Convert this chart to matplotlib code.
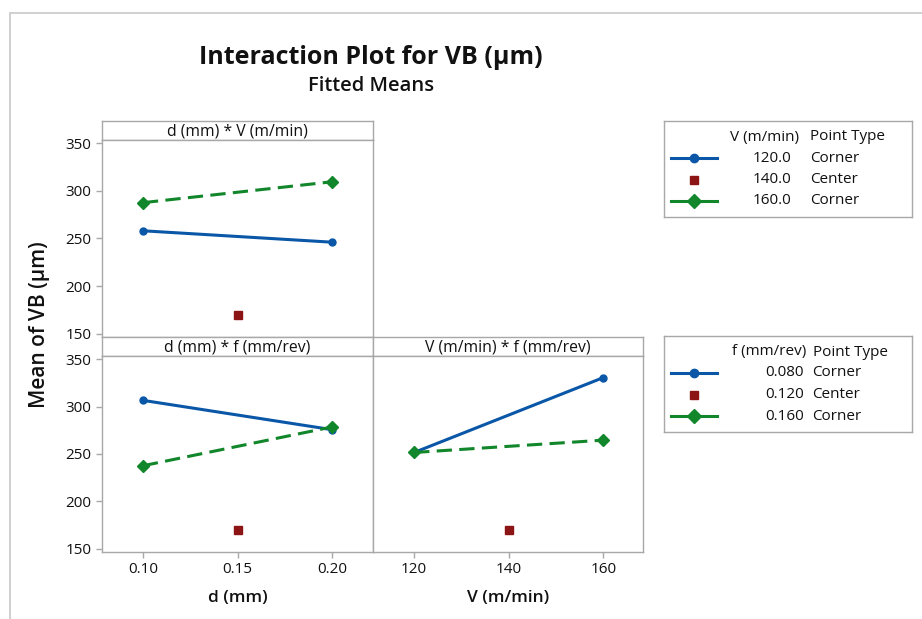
import matplotlib
matplotlib.use("Agg")
import matplotlib.pyplot as plt
from matplotlib.patches import Rectangle

plt.rcParams['font.family'] = ['Open Sans', 'DejaVu Sans']

# factor levels
d_levels = [0.10, 0.15, 0.20]
V_levels = [120, 140, 160]
f_levels = [0.080, 0.120, 0.160]

# fitted means, d * V panel
dV_low = [258.0, 246.0]      # V = 120
dV_high = [287.5, 309.5]     # V = 160
dV_center = 170.0            # V = 140

# fitted means, d * f panel
df_low = [306.5, 275.5]      # f = 0.080
df_high = [237.5, 278.5]     # f = 0.160
df_center = 170.0            # f = 0.120

# fitted means, V * f panel
Vf_low = [251.5, 330.5]
Vf_high = [251.5, 264.5]
Vf_center = 170.0

y_ticks = [150, 200, 250, 300, 350]
d_ticks = ["0.10", "0.15", "0.20"]
V_ticks = ["120", "140", "160"]

legend_V = ["120.0", "140.0", "160.0"]
legend_f = ["0.080", "0.120", "0.160"]
point_types = ["Corner", "Center", "Corner"]

BLUE = "#0a57a8"
GREEN = "#11862a"
RED = "#8c1414"
GRID = "#a8a8a8"
TXT = "#111111"

low_style = dict(color=BLUE, lw=2.2, marker="o", ms=5, solid_capstyle="round")
high_style = dict(color=GREEN, lw=2.2, ls=(0, (5, 2.4)), marker="D", ms=6)
mid_style = dict(color=RED, ls="none", marker="s", ms=5.5)

W, H = 922, 619
fig = plt.figure(figsize=(W / 100, H / 100), dpi=100)


def px_axes(x0, y0, x1, y1):
    return fig.add_axes([x0 / W, 1 - y1 / H, (x1 - x0) / W, (y1 - y0) / H])


def style_axes(ax):
    for s in ax.spines.values():
        s.set_color(GRID)
        s.set_linewidth(1.0)
    ax.tick_params(colors=GRID, labelcolor=TXT, labelsize=11, length=4, width=1)


def strip(x0, y0, x1, y1, label):
    ax = px_axes(x0, y0, x1, y1)
    style_axes(ax)
    ax.set_xticks([])
    ax.set_yticks([])
    ax.text(0.5, 0.45, label, ha="center", va="center", fontsize=11.3, color=TXT,
            transform=ax.transAxes)
    return ax


def panel(x0, y0, x1, y1, xs, low, high, center, xmid):
    ax = px_axes(x0, y0, x1, y1)
    style_axes(ax)
    ax.plot([xs[0], xs[2]], low, **low_style)
    ax.plot([xs[0], xs[2]], high, **high_style)
    ax.plot([xmid], [center], **mid_style)
    ax.set_ylim(146.5, 353.3)
    ax.set_yticks(y_ticks)
    return ax


# outer frame
fig.patches.append(Rectangle((10 / W, -0.05), 1.1, 1 - 13 / H + 0.05,
                             transform=fig.transFigure, fill=False,
                             edgecolor="#c8c8c8", lw=1.2))

# d * V
strip(102, 121, 373, 140, "d (mm) * V (m/min)")
ax1 = panel(102, 140, 373, 337, d_levels, dV_low, dV_high, dV_center, d_levels[1])
ax1.set_xlim(0.0784, 0.2214)
ax1.set_xticks([])

# d * f
strip(102, 337, 373, 356, "d (mm) * f (mm/rev)")
ax2 = panel(102, 356, 373, 552, d_levels, df_low, df_high, df_center, d_levels[1])
ax2.set_xlim(0.0784, 0.2214)
ax2.set_xticks(d_levels, d_ticks)
ax2.set_xlabel("d (mm)", fontsize=12.5, fontweight="semibold", color=TXT, labelpad=9)

# V * f
strip(373, 337, 643, 356, "V (m/min) * f (mm/rev)")
ax3 = panel(373, 356, 643, 552, V_levels, Vf_low, Vf_high, Vf_center, V_levels[1])
ax3.set_xlim(111.3, 168.4)
ax3.set_xticks(V_levels, V_ticks)
ax3.set_yticks([])
ax3.set_xlabel("V (m/min)", fontsize=12.5, fontweight="semibold", color=TXT, labelpad=9)

fig.text(40 / W, 1 - 325 / H, "Mean of VB (µm)", rotation=90, ha="center",
         va="center", fontsize=15, fontweight="semibold", color=TXT)

fig.text(371 / W, 1 - 57 / H, "Interaction Plot for VB (µm)", ha="center",
         va="center", fontsize=18, fontweight="bold", color=TXT)
fig.text(371 / W, 1 - 86 / H, "Fitted Means", ha="center", va="center",
         fontsize=14.5, fontweight="semibold", color=TXT)


def legend_box(x0, y0, x1, y1, header, values, hdr_right, val_right, col2):
    ax = px_axes(x0, y0, x1, y1)
    style_axes(ax)
    ax.set_xticks([])
    ax.set_yticks([])
    ax.set_xlim(0, x1 - x0)
    ax.set_ylim(y1 - y0, 0)
    rows = [37, 58.5, 80]
    ax.text(hdr_right, 16, header, ha="right", va="center", fontsize=11, color=TXT)
    ax.text(col2, 16, "Point Type", ha="left", va="center", fontsize=11, color=TXT)
    for y, st in zip([rows[0], rows[2]], [low_style, high_style]):
        ax.plot([7, 53], [y, y], color=st["color"], lw=st["lw"], ls="-")
        ax.plot([30], [y], color=st["color"], marker=st["marker"], ms=st["ms"] + 1)
    ax.plot([30], [rows[1]], **mid_style)
    for y, v, p in zip(rows, values, point_types):
        ax.text(val_right, y, v, ha="right", va="center", fontsize=11, color=TXT)
        ax.text(col2, y, p, ha="left", va="center", fontsize=11, color=TXT)


legend_box(664, 121, 912, 217, "V (m/min)", legend_V, 135, 127, 146)
legend_box(664, 336, 912, 432, "f (mm/rev)", legend_f, 142, 140, 148.5)

fig.savefig("out.png", dpi=100, facecolor="white")
